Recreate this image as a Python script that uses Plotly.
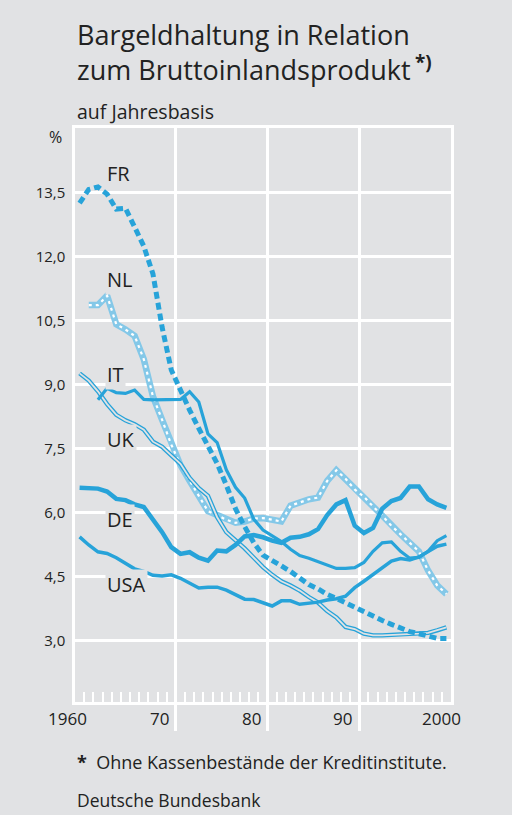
import plotly.graph_objects as go

# ---- data ----
years = list(range(1960, 2001))

fr = [13.26, 13.58, 13.64, 13.47, 13.12, 13.14, 12.70, 12.25, 11.60, 10.35,
      9.35, 8.85, 8.41, 7.98, 7.57, 7.16, 6.65, 6.10, 5.68, 5.30,
      5.01, 4.87, 4.76, 4.63, 4.48, 4.32, 4.22, 4.09, 4.00, 3.89,
      3.78, 3.67, 3.56, 3.48, 3.39, 3.30, 3.22, 3.17, 3.11, 3.06, 3.06]

nl = [None, 10.87, 10.87, 11.09, 10.42, 10.30, 10.15, 9.60, 8.73, 8.18,
      7.60, 7.12, 6.75, 6.40, 6.04, 5.95, 5.84, 5.77, 5.80, 5.87,
      5.88, 5.84, 5.80, 6.17, 6.25, 6.32, 6.36, 6.75, 7.00, 6.80,
      6.55, 6.38, 6.15, 5.94, 5.70, 5.50, 5.30, 5.10, 4.65, 4.30, 4.10]

it = [None, None, 8.65, 8.92, 8.82, 8.80, 8.88, 8.66, 8.65, 8.65,
      8.65, 8.66, 8.84, 8.60, 7.85, 7.65, 7.01, 6.60, 6.35, 5.85,
      5.60, 5.47, 5.33, 5.15, 5.00, 4.94, 4.86, 4.78, 4.70, 4.70,
      4.72, 4.84, 5.10, 5.30, 5.32, 5.10, 4.94, 4.96, 5.10, 5.35, 5.47]

uk = [9.27, 9.10, 8.85, 8.55, 8.30, 8.17, 8.08, 7.95, 7.67, 7.55,
      7.35, 7.15, 6.82, 6.58, 6.40, 5.90, 5.55, 5.37, 5.17, 4.95,
      4.73, 4.55, 4.40, 4.30, 4.18, 4.03, 3.90, 3.70, 3.55, 3.33,
      3.28, 3.17, 3.13, 3.13, 3.14, 3.14, 3.15, 3.17, 3.19, 3.25, 3.32]

de = [6.59, 6.58, 6.57, 6.50, 6.33, 6.30, 6.20, 6.14, 5.84, 5.55,
      5.20, 5.04, 5.08, 4.95, 4.88, 5.12, 5.10, 5.25, 5.45, 5.48,
      5.43, 5.35, 5.30, 5.42, 5.44, 5.50, 5.62, 5.95, 6.20, 6.30,
      5.70, 5.53, 5.65, 6.10, 6.28, 6.35, 6.62, 6.62, 6.32, 6.20, 6.12]

usa = [5.44, 5.25, 5.09, 5.05, 4.95, 4.82, 4.69, 4.63, 4.54, 4.52,
       4.55, 4.47, 4.35, 4.24, 4.26, 4.26, 4.19, 4.08, 3.98, 3.97,
       3.90, 3.82, 3.94, 3.94, 3.86, 3.88, 3.91, 3.96, 3.99, 4.05,
       4.25, 4.40, 4.55, 4.72, 4.87, 4.93, 4.90, 4.97, 5.10, 5.22, 5.27]

series_labels = ["FR", "NL", "IT", "UK", "DE", "USA"]
label_levels = [13.96, 11.46, 9.25, 7.71, 5.84, 4.32]

y_tick_vals = [3.0, 4.5, 6.0, 7.5, 9.0, 10.5, 12.0, 13.5]
y_tick_text = ["3,0", "4,5", "6,0", "7,5", "9,0", "10,5", "12,0", "13,5"]
x_tick_vals = [1960, 1970, 1980, 1990, 2000]
x_tick_text = ["1960", "70", "80", "90", "2000"]

# ---- styling ----
BG = "#e1e2e4"
BLUE = "#27a3d9"
LIGHT = "#84c8e8"
TXT = "#222222"
FONT = "Open Sans"

xpos = [y - 0.5 for y in years]  # annual values drawn centred on the year interval

fig = go.Figure()

# NL: light band with white dashes
fig.add_trace(go.Scatter(x=xpos, y=nl, mode="lines",
                         line=dict(color=LIGHT, width=6.5), hoverinfo="skip"))
fig.add_trace(go.Scatter(x=xpos, y=nl, mode="lines",
                         line=dict(color="white", width=2.2, dash="3px,4px"), hoverinfo="skip"))
# UK: double line
fig.add_trace(go.Scatter(x=xpos, y=uk, mode="lines",
                         line=dict(color=BLUE, width=4.4), hoverinfo="skip"))
fig.add_trace(go.Scatter(x=xpos, y=uk, mode="lines",
                         line=dict(color=BG, width=1.8), hoverinfo="skip"))
# USA, DE, IT solid
fig.add_trace(go.Scatter(x=xpos, y=usa, mode="lines",
                         line=dict(color=BLUE, width=3.5), hoverinfo="skip"))
fig.add_trace(go.Scatter(x=xpos, y=de, mode="lines",
                         line=dict(color=BLUE, width=4.5), hoverinfo="skip"))
fig.add_trace(go.Scatter(x=xpos, y=it, mode="lines",
                         line=dict(color=BLUE, width=3.2), hoverinfo="skip"))
# FR dashed
fig.add_trace(go.Scatter(x=xpos, y=fr, mode="lines",
                         line=dict(color=BLUE, width=5, dash="7px,4px"), hoverinfo="skip"))

annotations = []
# series labels
for lab, lvl in zip(series_labels, label_levels):
    annotations.append(dict(x=1962.3, y=lvl, xref="x", yref="y", text=lab,
                            showarrow=False, xanchor="left", yanchor="middle",
                            font=dict(family=FONT, size=20, color=TXT),
                            bgcolor=BG, borderpad=1))
# x tick labels
x_shift = {1960: 5, 1970: -5, 1980: -5, 1990: -5, 2000: 12}
for v, t in zip(x_tick_vals, x_tick_text):
    annotations.append(dict(x=v, y=-0.028, xref="x", yref="paper", text=t,
                            showarrow=False, xanchor="right", yanchor="middle",
                            xshift=x_shift[v],
                            font=dict(family=FONT, size=17, color=TXT)))
# titles and notes
annotations += [
    dict(x=0, y=1.1324, xref="paper", yref="paper", xanchor="left", yanchor="middle",
         align="left",
         text="Bargeldhaltung in Relation<br>zum Bruttoinlandsprodukt\u2009<sup><b>*)</b></sup>",
         showarrow=False, font=dict(family=FONT, size=27, color=TXT)),
    dict(x=0, y=1.0296, xref="paper", yref="paper", xanchor="left", yanchor="middle",
         text="auf Jahresbasis", showarrow=False,
         font=dict(family=FONT, size=19.5, color=TXT)),
    dict(x=-0.053, y=0.984, xref="paper", yref="paper", xanchor="center", yanchor="middle",
         text="%", showarrow=False,
         font=dict(family=FONT, size=16, color=TXT)),
    dict(x=0, y=-0.1045, xref="paper", yref="paper", xanchor="left", yanchor="middle",
         text="<b>*</b>  Ohne Kassenbestände der Kreditinstitute.", showarrow=False,
         font=dict(family=FONT, size=18, color=TXT)),
    dict(x=0, y=-0.1707, xref="paper", yref="paper", xanchor="left", yanchor="middle",
         text="Deutsche Bundesbank", showarrow=False,
         font=dict(family=FONT, size=17.5, color=TXT)),
]

fig.update_layout(
    width=512, height=815,
    margin=dict(l=75, r=61, t=128, b=113, pad=0),
    paper_bgcolor=BG, plot_bgcolor=BG,
    showlegend=False,
    annotations=annotations,
    xaxis=dict(range=[1959.0, 2000.0], tickmode="array", tickvals=[1970, 1980, 1990],
               showticklabels=False, ticks="outside", ticklen=26, tickwidth=2.5,
               tickcolor="white", showgrid=True, gridcolor="white", gridwidth=2.5,
               showline=True, linecolor="white", linewidth=2.5, mirror=True,
               zeroline=False,
               minor=dict(tickmode="array", tickvals=list(range(1960, 2000)),
                          ticks="inside", ticklen=10, tickwidth=1.5,
                          tickcolor="white", showgrid=False)),
    yaxis=dict(range=[1.57, 15.02], tickmode="array", tickvals=y_tick_vals,
               ticktext=y_tick_text, ticks="", showgrid=True, gridcolor="white",
               gridwidth=2.5, showline=True, linecolor="white", linewidth=2.5,
               mirror=True, zeroline=False, ticklabelstandoff=4,
               tickfont=dict(family=FONT, size=15, color=TXT)),
)

fig.write_html("out.html",
               config={"displayModeBar": False},
               post_script="document.body.style.margin='0';"
                           "document.body.style.background='" + BG + "';")
